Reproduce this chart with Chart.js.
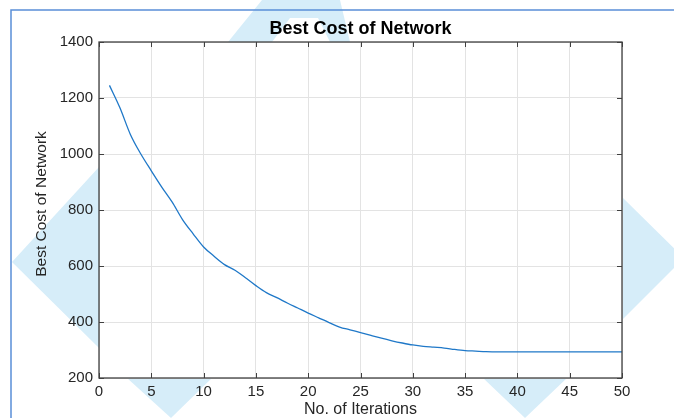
<!DOCTYPE html>
<html>
<head>
<meta charset="utf-8">
<title>Best Cost of Network</title>
<script src="https://cdn.jsdelivr.net/npm/chart.js"></script>
<style>
  html, body { margin: 0; padding: 0; background: #fff; }
  #wrap { width: 674px; height: 418px; position: relative; }
</style>
</head>
<body>
<div id="wrap"><canvas id="chart" width="674" height="418"></canvas></div>
<script>
// values
const iterations = Array.from({ length: 50 }, (_, i) => i + 1);
const bestCost = [
  1245, 1165, 1070, 1000, 940, 882, 828, 765, 715, 668,
  635, 605, 585, 558, 530, 505, 487, 468, 450, 432,
  415, 398, 382, 372, 362, 352, 342, 333, 325, 318,
  313, 310, 307, 302, 298, 296, 294, 293, 293, 293,
  293, 293, 293, 293, 293, 293, 293, 293, 293, 293
];
const xTicks = [0, 5, 10, 15, 20, 25, 30, 35, 40, 45, 50];
const yTicks = [200, 400, 600, 800, 1000, 1200, 1400];

const chartTitle = 'Best Cost of Network';
const xTitle = 'No. of Iterations';
const yTitle = 'Best Cost of Network';

const FONT = '"Liberation Sans", Arial, sans-serif';
const AXIS = '#404040';
const TEXT = '#262626';

// background watermark + frame, then the white plot box
const backdrop = {
  id: 'backdrop',
  beforeDraw(chart) {
    const ctx = chart.ctx;
    const a = chart.chartArea;
    ctx.save();
    ctx.fillStyle = '#d6edf9';
    const polys = [
      [[99, 167], [12, 262], [99, 348]],
      [[127, 378], [171, 418], [212, 378]],
      [[483, 378], [525, 418], [567, 378]],
      [[622, 197], [684, 258], [622, 320]],
      [[228, 42], [262, 0], [340, 0], [350, 42]]
    ];
    polys.forEach(p => {
      ctx.beginPath();
      p.forEach((pt, i) => i ? ctx.lineTo(pt[0], pt[1]) : ctx.moveTo(pt[0], pt[1]));
      ctx.closePath();
      ctx.fill();
    });
    ctx.fillStyle = '#fff';
    ctx.beginPath();
    ctx.moveTo(272, 42); ctx.lineTo(290, 18); ctx.lineTo(318, 18); ctx.lineTo(330, 42);
    ctx.closePath();
    ctx.fill();
    // page frame
    ctx.strokeStyle = '#5a8fd8';
    ctx.lineWidth = 1.5;
    ctx.beginPath();
    ctx.moveTo(674, 10); ctx.lineTo(11, 10); ctx.lineTo(11, 418);
    ctx.stroke();
    ctx.fillStyle = '#fff';
    ctx.fillRect(a.left, a.top, a.right - a.left, a.bottom - a.top);
    ctx.restore();
  }
};

// MATLAB-style box, inward ticks and texts
const matlabBox = {
  id: 'matlabBox',
  afterDraw(chart) {
    const ctx = chart.ctx;
    const a = chart.chartArea;
    const xs = chart.scales.x, ys = chart.scales.y;
    ctx.save();
    ctx.strokeStyle = AXIS;
    ctx.lineWidth = 1.3;
    ctx.strokeRect(a.left, a.top, a.right - a.left, a.bottom - a.top);
    ctx.lineWidth = 1;
    ctx.beginPath();
    xTicks.forEach(v => {
      const px = Math.round(xs.getPixelForValue(v)) + 0.5;
      ctx.moveTo(px, a.bottom); ctx.lineTo(px, a.bottom - 5);
      ctx.moveTo(px, a.top); ctx.lineTo(px, a.top + 5);
    });
    yTicks.forEach(v => {
      const py = Math.round(ys.getPixelForValue(v)) + 0.5;
      ctx.moveTo(a.left, py); ctx.lineTo(a.left + 5, py);
      ctx.moveTo(a.right, py); ctx.lineTo(a.right - 5, py);
    });
    ctx.stroke();

    ctx.fillStyle = '#000';
    ctx.textAlign = 'center';
    ctx.textBaseline = 'middle';
    ctx.font = 'bold 18px ' + FONT;
    ctx.fillText(chartTitle, (a.left + a.right) / 2, 29);
    ctx.fillStyle = TEXT;
    ctx.font = '16px ' + FONT;
    ctx.fillText(xTitle, (a.left + a.right) / 2, 410);
    ctx.translate(42, 204);
    ctx.rotate(-Math.PI / 2);
    ctx.font = '15.5px ' + FONT;
    ctx.fillText(yTitle, 0, 0);
    ctx.restore();
  }
};

new Chart(document.getElementById('chart'), {
  type: 'line',
  data: {
    labels: iterations,
    datasets: [{
      data: iterations.map((x, i) => ({ x: x, y: bestCost[i] })),
      borderColor: '#1f78c8',
      borderWidth: 1.3,
      pointRadius: 0,
      cubicInterpolationMode: 'monotone',
      fill: false
    }]
  },
  options: {
    responsive: false,
    animation: false,
    layout: { padding: { top: 42, right: 52, left: 0, bottom: 0 } },
    plugins: { legend: { display: false }, tooltip: { enabled: false }, title: { display: false } },
    scales: {
      x: {
        type: 'linear',
        min: 0, max: 50,
        afterBuildTicks(s) { s.ticks = xTicks.map(v => ({ value: v })); },
        afterFit(s) { s.height = 40; },
        grid: { color: '#e3e3e3', drawTicks: false },
        border: { display: false },
        ticks: { color: TEXT, font: { family: FONT, size: 15 }, padding: 5, maxRotation: 0,
                 callback: v => String(v) }
      },
      y: {
        min: 200, max: 1400,
        afterBuildTicks(s) { s.ticks = yTicks.map(v => ({ value: v })); },
        afterFit(s) { s.width = 99; },
        grid: { color: '#e3e3e3', drawTicks: false },
        border: { display: false },
        ticks: { color: TEXT, font: { family: FONT, size: 15 }, padding: 6,
                 callback: v => String(v) }
      }
    }
  },
  plugins: [backdrop, matlabBox]
});
</script>
</body>
</html>
